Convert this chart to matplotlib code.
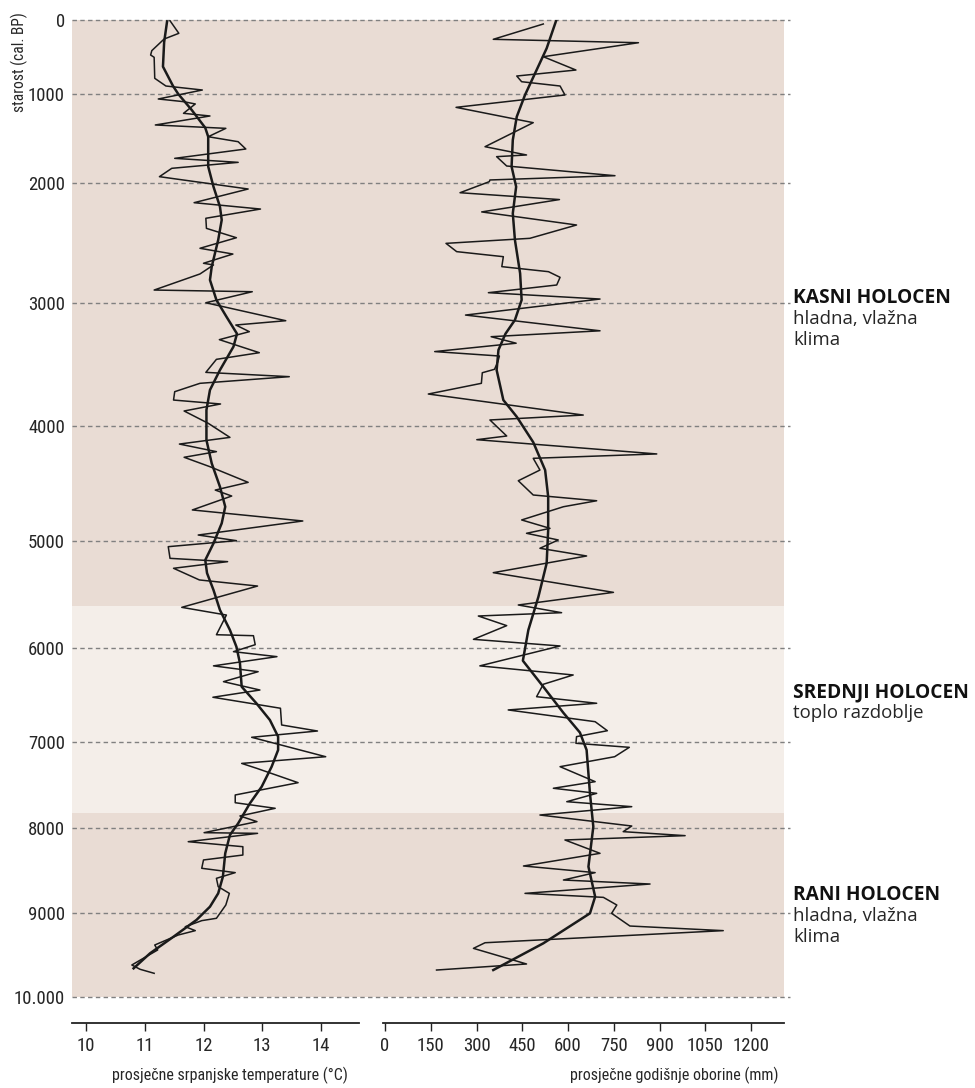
import numpy as np
import matplotlib
matplotlib.use('Agg')
import matplotlib.pyplot as plt
from matplotlib import font_manager as fm

# ---------------- data ----------------
temp_age = [10, 180, 257, 414, 473, 504, 788, 892, 946, 1056, 1086, 1112, 1217, 1247, 1348, 1386, 1480,
            1536, 1618, 1723, 1768, 1835, 1929, 2050, 2164, 2217, 2294, 2378, 2456, 2544, 2592, 2669,
            2683, 2758, 2892, 2906, 2998, 3144, 3179, 3233, 3298, 3404, 3458, 3564, 3599, 3653, 3721,
            3789, 3821, 3878, 3978, 4099, 4157, 4223, 4272, 4354, 4490, 4557, 4609, 4730, 4826, 4948,
            4997, 5053, 5162, 5193, 5255, 5364, 5421, 5620, 5692, 5876, 5885, 5969, 6039, 6092, 6190,
            6252, 6358, 6447, 6524, 6641, 6819, 6883, 6950, 7171, 7249, 7307, 7473, 7616, 7706, 7771,
            7860, 7926, 8055, 8063, 8161, 8220, 8318, 8376, 8474, 8525, 8592, 8690, 8769, 8906, 9063,
            9091, 9163, 9210, 9262, 9381, 9440, 9619, 9670, 9718]
temp_raw = [11.43, 11.58, 11.33, 11.12, 11.10, 11.16, 11.17, 11.36, 11.98, 11.23, 11.66, 11.86, 11.66,
            12.11, 11.18, 12.38, 12.08, 12.59, 12.72, 11.51, 12.59, 11.46, 11.25, 12.76, 11.84, 12.97,
            12.04, 12.05, 12.56, 11.94, 12.50, 12.00, 12.17, 11.94, 11.16, 12.83, 12.04, 13.40, 12.55,
            12.78, 12.27, 12.95, 12.22, 12.04, 13.46, 11.94, 11.51, 11.49, 12.29, 11.67, 12.08, 12.45,
            11.59, 12.22, 11.67, 12.11, 12.76, 12.20, 12.48, 11.81, 13.69, 11.91, 12.56, 11.40, 11.43,
            12.41, 11.49, 11.93, 12.92, 11.63, 12.39, 12.22, 12.85, 12.88, 12.51, 13.25, 12.17, 12.93,
            12.34, 12.96, 12.16, 13.31, 13.33, 13.94, 12.82, 14.08, 12.65, 12.91, 13.61, 12.54, 12.54,
            13.22, 12.62, 12.91, 12.01, 12.92, 11.74, 12.67, 12.67, 12.00, 11.97, 12.54, 12.22, 12.25,
            12.44, 12.38, 12.22, 11.97, 11.69, 11.86, 11.57, 11.17, 11.22, 10.78, 10.92, 11.16]

temp_smooth_age = [20, 300, 630, 890, 1000, 1180, 1380, 1480, 1815, 2031, 2197, 2308, 2475, 2697, 2808,
                   2975, 3111, 3250, 3355, 3545, 3707, 3870, 4122, 4325, 4528, 4702, 4846, 5022, 5178,
                   5300, 5458, 5645, 5832, 5988, 6160, 6412, 6588, 6766, 6943, 7093, 7287, 7520, 7713,
                   7946, 8082, 8298, 8573, 8769, 8926, 9083, 9282, 9480, 9659]
temp_smooth = [11.38, 11.33, 11.31, 11.48, 11.57, 11.80, 12.03, 12.08, 12.08, 12.17, 12.28, 12.31, 12.25,
               12.14, 12.11, 12.22, 12.39, 12.57, 12.51, 12.28, 12.11, 12.05, 12.05, 12.14, 12.28, 12.37,
               12.31, 12.17, 12.03, 12.06, 12.17, 12.28, 12.45, 12.56, 12.62, 12.65, 12.90, 13.13, 13.27,
               13.27, 13.16, 12.99, 12.79, 12.59, 12.45, 12.37, 12.33, 12.25, 12.11, 11.88, 11.49, 11.09,
               10.81]

prec_age = [54, 261, 307, 496, 676, 757, 834, 892, 1011, 1150, 1322, 1592, 1685, 1704, 1809, 1918, 1966,
            1985, 2081, 2138, 2241, 2350, 2461, 2503, 2572, 2614, 2697, 2739, 2786, 2850, 2914, 2967,
            3098, 3226, 3274, 3327, 3395, 3431, 3478, 3539, 3567, 3653, 3740, 3911, 3951, 4087, 4119, 4243,
            4281, 4383, 4476, 4600, 4650, 4702, 4817, 4890, 4933, 4991, 5068, 5140, 5296, 5480, 5598,
            5670, 5701, 5791, 5919, 5981, 6190, 6287, 6386, 6518, 6588, 6659, 6784, 6880, 6943, 7015,
            7062, 7171, 7287, 7461, 7538, 7597, 7694, 7752, 7849, 7977, 8043, 8090, 8141, 8298, 8447,
            8525, 8612, 8659, 8769, 8816, 8906, 9004, 9155, 9210, 9354, 9421, 9607, 9679]
prec_raw = [519, 355, 831, 519, 626, 432, 448, 574, 590, 233, 486, 328, 464, 366, 399, 754, 344,
            342, 246, 572, 317, 628, 475, 200, 235, 388, 383, 536, 574, 563, 339, 705,
            264, 705, 348, 430, 163, 375, 370, 359, 319, 316, 142, 650, 344, 399, 301, 891,
            486, 508, 437, 486, 694, 585, 448, 541, 464, 568, 508, 661, 355, 749, 437,
            579, 306, 399, 290, 574, 311, 617, 519, 497, 694, 404, 689, 729, 628, 626,
            801, 753, 574, 689, 552, 694, 596, 809, 508, 809, 781, 984, 590, 705, 454,
            689, 585, 869, 459, 716, 760, 743, 803, 1109, 328, 290, 464, 169]

prec_smooth_age = [10, 383, 676, 1011, 1255, 1517, 1815, 2031, 2253, 2475, 2753, 2975, 3138, 3250, 3382,
                   3545, 3789, 3925, 4141, 4383, 4615, 4904, 5208, 5521, 5832, 6135, 6412, 6690, 6899,
                   7093, 7597, 7985, 8455, 8808, 9004, 9361, 9679]
prec_smooth = [561, 530, 497, 459, 432, 419, 415, 430, 419, 426, 443, 448, 426, 395, 372,
               366, 388, 432, 486, 525, 535, 535, 530, 503, 470, 452, 519, 585, 639,
               661, 672, 683, 667, 689, 672, 519, 355]

age_ticks = [0, 1000, 2000, 3000, 4000, 5000, 6000, 7000, 8000, 9000, 10000]
age_tick_labels = ['0', '1000', '2000', '3000', '4000', '5000', '6000', '7000', '8000', '9000', '10.000']
temp_ticks = [10, 11, 12, 13, 14]
prec_ticks = [0, 150, 300, 450, 600, 750, 900, 1050, 1200]

period_bounds = [0, 5610, 7830, 10000]
period_titles = ['KASNI HOLOCEN', 'SREDNJI HOLOCEN', 'RANI HOLOCEN']
period_desc = ['hladna, vlažna\nklima', 'toplo razdoblje', 'hladna, vlažna\nklima']

# non-linear age axis (age-depth scale of the original figure)
SCALE_AGE = np.array(age_ticks, dtype=float)
SCALE_POS = np.array([20, 94, 183, 303, 426, 541, 648, 742, 828, 913, 997], dtype=float)
_a = np.concatenate([[-1e6], SCALE_AGE, [1e6]])
_p = np.concatenate([[SCALE_POS[0] - (1e6) * (SCALE_POS[1] - SCALE_POS[0]) / 1000.0], SCALE_POS,
                     [SCALE_POS[-1] + (1e6 - 10000) * (SCALE_POS[-1] - SCALE_POS[-2]) / 1000.0]])


def fwd(a):
    return np.interp(a, _a, _p)


def inv(p):
    return np.interp(p, _p, _a)


# ---------------- fonts ----------------
names = {f.name for f in fm.fontManager.ttflist}


def find_narrow():
    prefs = ['liberationsansnarrow-regular', 'robotocondensed-regular', 'opensans_condensed-regular',
             'opensanscondensed-regular', 'dejavusanscondensed.ttf', 'notosans-condensed',
             'notosansdisplay-condensed', 'lato-condensed']
    files = [f.fname for f in fm.fontManager.ttflist]
    low = [(p.lower().replace(' ', '').replace('_', ''), p) for p in files]
    for pref in prefs:
        key = pref.replace('_', '')
        for l, p in low:
            if key in l.split('/')[-1]:
                return p
    for f in fm.fontManager.ttflist:
        fn = f.fname.lower().split('/')[-1]
        if ('condensed' in fn or 'narrow' in fn) and 'bold' not in fn and 'italic' not in fn \
                and 'light' not in fn and 'semi' not in fn and 'extra' not in fn and 'black' not in fn \
                and 'medium' not in fn and 'thin' not in fn and 'oblique' not in fn:
            return f.fname
    return None


narrow_file = find_narrow()
if narrow_file:
    def NF(size):
        return fm.FontProperties(fname=narrow_file, size=size)
    TICK_SIZE, LAB_SIZE, YLAB_SIZE = 13.5, 11.5, 11.2
else:
    fam = 'Roboto' if 'Roboto' in names else 'DejaVu Sans'

    def NF(size):
        return fm.FontProperties(family=fam, size=size)
    TICK_SIZE, LAB_SIZE, YLAB_SIZE = 11, 9.5, 9

label_font = 'Open Sans' if 'Open Sans' in names else 'DejaVu Sans'

W, H = 975, 1088
fig = plt.figure(figsize=(W / 100, H / 100), dpi=100)


def rect(x0, x1, y0, y1):
    return [x0 / W, 1 - y1 / H, (x1 - x0) / W, (y1 - y0) / H]


BAND = '#e9dcd4'
LIGHT = '#f4eee9'
INK = '#1a1a1a'
TXT = '#262626'

ax_bg = fig.add_axes(rect(72, 784, 20, 997))
ax_bg.set_yscale('function', functions=(fwd, inv))
ax_bg.set_ylim(10000, 0)
ax_bg.set_xlim(0, 1)
colors = [BAND, LIGHT, BAND]
for i in range(3):
    ax_bg.axhspan(period_bounds[i], period_bounds[i + 1], color=colors[i], lw=0, zorder=0)
for a in age_ticks:
    ax_bg.plot([0, 1.008], [a, a], color='#808080', lw=1.0, ls=(0, (3.2, 2.4)), clip_on=False, zorder=1)
for s in ax_bg.spines.values():
    s.set_visible(False)
ax_bg.set_xticks([])
ax_bg.set_yticks(age_ticks)
ax_bg.set_yticklabels(age_tick_labels, color=TXT)
for lbl in ax_bg.get_yticklabels():
    lbl.set_fontproperties(NF(TICK_SIZE))
ax_bg.tick_params(axis='y', length=0, pad=5)
ax_bg.yaxis.set_minor_locator(matplotlib.ticker.NullLocator())

# temperature panel
px_per_deg = 58.75
ax_t = fig.add_axes(rect(72, 359, 20, 997))
ax_t.patch.set_alpha(0)
ax_t.set_yscale('function', functions=(fwd, inv))
ax_t.set_ylim(10000, 0)
ax_t.set_xlim(10 - 14 / px_per_deg, 10 + (359 - 86) / px_per_deg)
ax_t.plot(temp_raw, temp_age, color=INK, lw=1.1, zorder=3)
ax_t.plot(temp_smooth, temp_smooth_age, color=INK, lw=1.8, zorder=4)

# precipitation panel
px_per_mm = 366 / 1200
ax_p = fig.add_axes(rect(383, 784, 20, 997))
ax_p.patch.set_alpha(0)
ax_p.set_yscale('function', functions=(fwd, inv))
ax_p.set_ylim(10000, 0)
ax_p.set_xlim(-2 / px_per_mm, (784 - 385) / px_per_mm)
ax_p.plot(prec_raw, prec_age, color=INK, lw=1.1, zorder=3)
ax_p.plot(prec_smooth, prec_smooth_age, color=INK, lw=1.8, zorder=4)

for ax, ticks in ((ax_t, temp_ticks), (ax_p, prec_ticks)):
    for k in ('left', 'right', 'top'):
        ax.spines[k].set_visible(False)
    ax.spines['bottom'].set_position(('outward', 18.7))
    ax.spines['bottom'].set_linewidth(1.3)
    ax.spines['bottom'].set_color('#222222')
    ax.set_yticks([])
    ax.yaxis.set_minor_locator(matplotlib.ticker.NullLocator())
    ax.set_xticks(ticks)
    ax.set_xticklabels([str(t) for t in ticks], color=TXT)
    for lbl in ax.get_xticklabels():
        lbl.set_fontproperties(NF(TICK_SIZE))
    ax.tick_params(axis='x', length=6, width=1.0, color='#222222', pad=4)

fig.text(230 / W, 1 - 1075 / H, 'prosječne srpanjske temperature (°C)', fontproperties=NF(LAB_SIZE),
         ha='center', va='center', color=TXT)
fig.text(674 / W, 1 - 1075 / H, 'prosječne godišnje oborine (mm)', fontproperties=NF(LAB_SIZE),
         ha='center', va='center', color=TXT)
fig.text(19 / W, 1 - 12 / H, 'starost (cal. BP)', fontproperties=NF(YLAB_SIZE), rotation=90,
         ha='center', va='top', color=TXT)

# period annotations
title_y = [298, 692, 895]
for i in range(3):
    fig.text(793 / W, 1 - title_y[i] / H, period_titles[i], family=label_font, fontweight='bold',
             fontsize=13.8, ha='left', va='center', color='#111111')
    fig.text(793 / W, 1 - (title_y[i] + 12) / H, period_desc[i], family=label_font, fontsize=13.4,
             ha='left', va='top', color=TXT, linespacing=1.2)

fig.savefig('out.png', dpi=100)
